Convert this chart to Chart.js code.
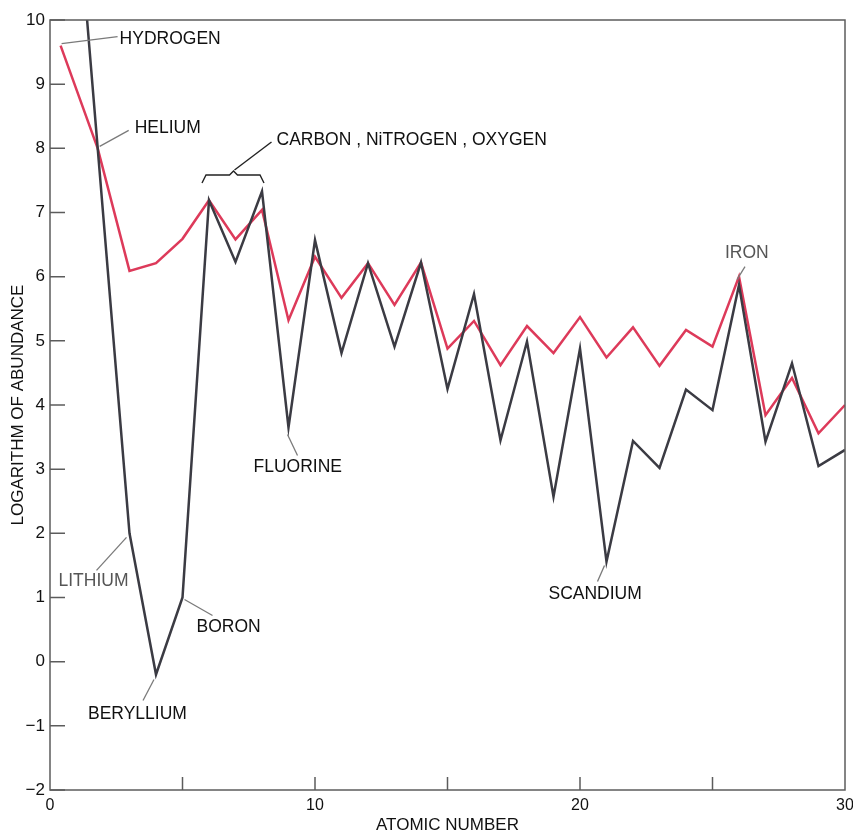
<!DOCTYPE html>
<html>
<head>
<meta charset="utf-8">
<script src="https://cdn.jsdelivr.net/npm/chart.js@4"></script>
<style>
  html, body { margin: 0; padding: 0; background: #fff; }
  #wrap { width: 853px; height: 836px; }
</style>
</head>
<body>
<div id="wrap"><canvas id="abundanceChart" width="853" height="836"></canvas></div>
<script>
// red line (upper) and dark line (lower), log abundance vs atomic number
const redX = [0.4, 1.8, 3, 4, 5, 6, 7, 8, 9, 10, 11, 12, 13, 14, 15, 16, 17, 18, 19, 20, 21, 22, 23, 24, 25, 26, 27, 28, 29, 30];
const redY = [9.6, 8.0, 6.09, 6.21, 6.59, 7.19, 6.58, 7.04, 5.32, 6.31, 5.67, 6.21, 5.56, 6.22, 4.88, 5.31, 4.62, 5.23, 4.81, 5.37, 4.74, 5.21, 4.61, 5.17, 4.91, 6.0, 3.84, 4.42, 3.56, 4.0];
const darkX = [1, 1.8, 3, 4, 5, 6, 7, 8, 9, 10, 11, 12, 13, 14, 15, 16, 17, 18, 19, 20, 21, 22, 23, 24, 25, 26, 27, 28, 29, 30];
const darkY = [12.0, 8.0, 2.0, -0.2, 1.0, 7.19, 6.23, 7.33, 3.65, 6.57, 4.81, 6.21, 4.91, 6.22, 4.25, 5.73, 3.45, 4.99, 2.57, 4.88, 1.56, 3.44, 3.02, 4.24, 3.92, 5.87, 3.43, 4.65, 3.05, 3.30];

const xTicks = [0, 10, 20, 30];
const yRange = [-2, 10];

// element labels: anchored on a point of one series, offsets in px
const elementLabels = [
  { text: "HYDROGEN", series: "red", i: 0, lead: [1, -2, 57, -9], at: [59, -6], color: "#111" },
  { text: "HELIUM", series: "red", i: 1, lead: [2, -2, 31, -18], at: [37, -20], color: "#111" },
  { text: "LITHIUM", series: "dark", i: 2, lead: [-3, 4, -33, 37], at: [-71, 48], color: "#555" },
  { text: "BERYLLIUM", series: "dark", i: 3, lead: [-2, 5, -13, 26], at: [-68, 40], color: "#111" },
  { text: "BORON", series: "dark", i: 4, lead: [2, 2, 30, 18], at: [14, 30], color: "#111" },
  { text: "FLUORINE", series: "dark", i: 8, lead: [-1, 7, 9, 28], at: [-35, 40], color: "#111" },
  { text: "SCANDIUM", series: "dark", i: 20, lead: [-2, 4, -9, 20], at: [-58, 33], color: "#111" },
  { text: "IRON", series: "red", i: 25, lead: [-2, 3, 6, -10], at: [-14, -23], color: "#555" }
];

const labelFont = "17.5px 'Liberation Sans', Arial, sans-serif";
const toPoints = (xs, ys) => xs.map((x, k) => ({ x: x, y: ys[k] }));

const framePlugin = {
  id: "frameAndLabels",
  afterDraw(chart) {
    const { ctx, chartArea: a, scales: { x, y } } = chart;
    ctx.save();
    // box
    ctx.strokeStyle = "#5c5c5c";
    ctx.lineWidth = 1.5;
    ctx.strokeRect(a.left, a.top, a.right - a.left, a.bottom - a.top);
    // inward ticks
    ctx.beginPath();
    y.ticks.forEach(t => {
      const py = y.getPixelForValue(t.value);
      ctx.moveTo(a.left, py);
      ctx.lineTo(a.left + 15, py);
    });
    x.ticks.forEach(t => {
      if (t.value <= 0 || t.value >= 30) return;
      const px = x.getPixelForValue(t.value);
      ctx.moveTo(px, a.bottom);
      ctx.lineTo(px, a.bottom - 13);
    });
    ctx.stroke();

    ctx.font = labelFont;
    ctx.textBaseline = "middle";
    ctx.textAlign = "left";
    elementLabels.forEach(l => {
      const xs = l.series === "red" ? redX : darkX;
      const ys = l.series === "red" ? redY : darkY;
      const px = x.getPixelForValue(xs[l.i]);
      const py = y.getPixelForValue(ys[l.i]);
      ctx.strokeStyle = "#7a7a7a";
      ctx.lineWidth = 1.3;
      ctx.beginPath();
      ctx.moveTo(px + l.lead[0], py + l.lead[1]);
      ctx.lineTo(px + l.lead[2], py + l.lead[3]);
      ctx.stroke();
      ctx.fillStyle = l.color;
      ctx.fillText(l.text, px + l.at[0], py + l.at[1]);
    });

    // brace over carbon..oxygen
    const bx0 = x.getPixelForValue(6) - 7;
    const bx1 = x.getPixelForValue(8) + 2;
    const bm = x.getPixelForValue(7) - 2;
    const by = y.getPixelForValue(7.6);
    ctx.strokeStyle = "#222";
    ctx.lineWidth = 1.4;
    ctx.beginPath();
    ctx.moveTo(bx0, by + 9);
    ctx.lineTo(bx0 + 4, by + 1);
    ctx.lineTo(bm - 4, by + 1);
    ctx.lineTo(bm, by - 3);
    ctx.lineTo(bm + 4, by + 1);
    ctx.lineTo(bx1 - 4, by + 1);
    ctx.lineTo(bx1, by + 9);
    ctx.stroke();
    ctx.beginPath();
    ctx.moveTo(bm + 1, by - 4);
    ctx.lineTo(bm + 38, by - 32);
    ctx.stroke();
    ctx.fillStyle = "#111";
    ctx.fillText("CARBON , NiTROGEN , OXYGEN", bm + 43, by - 34);
    ctx.restore();
  }
};

const chart = new Chart(document.getElementById("abundanceChart"), {
  type: "line",
  data: {
    datasets: [
      {
        label: "dark",
        data: toPoints(darkX, darkY),
        borderColor: "#3b3b43",
        borderWidth: 2.5,
        pointRadius: 0,
        tension: 0,
        borderJoinStyle: "miter"
      },
      {
        label: "red",
        data: toPoints(redX, redY),
        borderColor: "#dd3a5a",
        borderWidth: 2.5,
        pointRadius: 0,
        tension: 0,
        borderJoinStyle: "miter"
      }
    ]
  },
  options: {
    responsive: false,
    animation: false,
    layout: { padding: { top: 20, right: 8, left: 0, bottom: 0 } },
    plugins: { legend: { display: false }, tooltip: { enabled: false } },
    scales: {
      x: {
        type: "linear",
        min: 0,
        max: 30,
        grid: { display: false, drawTicks: false },
        border: { display: false },
        ticks: {
          stepSize: 5,
          padding: 6,
          color: "#111",
          font: { size: 16, family: "'Liberation Sans', Arial, sans-serif" },
          callback: v => (xTicks.includes(v) ? String(v) : "")
        },
        title: {
          display: true,
          text: "ATOMIC NUMBER",
          color: "#111",
          padding: { top: 0, bottom: 0 },
          font: { size: 17, family: "'Liberation Sans', Arial, sans-serif" }
        },
        afterFit: s => { s.height = 46; s.paddingLeft = 0; s.paddingRight = 0; }
      },
      y: {
        min: yRange[0],
        max: yRange[1],
        grid: { display: false, drawTicks: false },
        border: { display: false },
        ticks: {
          stepSize: 1,
          padding: 5,
          color: "#111",
          font: { size: 17, family: "'Liberation Sans', Arial, sans-serif" },
          callback: v => (v < 0 ? "\u2212" + Math.abs(v) : String(v))
        },
        title: {
          display: true,
          text: "LOGARITHM OF ABUNDANCE",
          color: "#111",
          padding: { top: 8, bottom: 0 },
          font: { size: 17, family: "'Liberation Sans', Arial, sans-serif" }
        },
        afterFit: s => { s.width = 50; s.paddingTop = 0; s.paddingBottom = 0; }
      }
    }
  },
  plugins: [framePlugin]
});
</script>
</body>
</html>
